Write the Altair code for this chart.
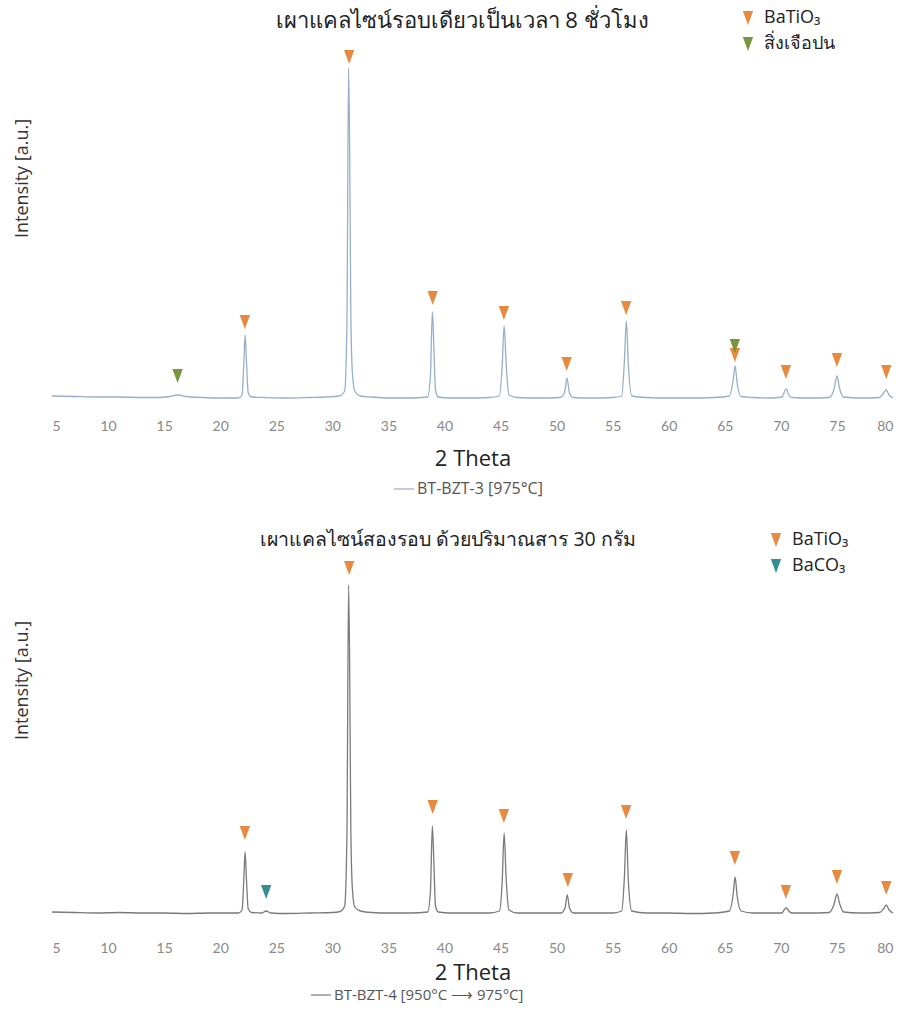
import altair as alt
import pandas as pd

# ---------------- data ----------------
x_ticks = [5, 10, 15, 20, 25, 30, 35, 40, 45, 50, 55, 60, 65, 70, 75, 80]

top_title = "เผาแคลไซน์รอบเดียวเป็นเวลา 8 ชั่วโมง"
bottom_title = "เผาแคลไซน์สองรอบ ด้วยปริมาณสาร 30 กรัม"

top_series = "BT-BZT-3 [975°C]"
bottom_series = "BT-BZT-4 [950°C ⟶ 975°C]"

top_phases = ["BaTiO₃", "สิ่งเจือปน"]
top_phase_colors = ["#e5802f", "#6f8c2f"]
bottom_phases = ["BaTiO₃", "BaCO₃"]
bottom_phase_colors = ["#e5802f", "#23868c"]

# (2theta, intensity)
top_trace = [
    (5.0, 9), (7.0, 8.5), (9.0, 8), (11.0, 8), (13.0, 7.5), (14.5, 7.5), (15.5, 8.5), (16.2, 10),
    (17.0, 8.5), (18.5, 7.5), (20.0, 7), (21.6, 7), (21.95, 10), (22.1, 40), (22.22, 70),
    (22.35, 42), (22.5, 12), (22.8, 8), (24.0, 7.5), (26.0, 7), (28.0, 7.5), (29.5, 8),
    (30.6, 9), (31.1, 14), (31.3, 80), (31.45, 337), (31.55, 250), (31.65, 90), (31.8, 30),
    (32.0, 14), (32.5, 9), (33.5, 8), (35.0, 7), (37.0, 7), (38.5, 8), (38.75, 30),
    (38.92, 93), (39.05, 60), (39.2, 15), (39.45, 8), (40.5, 7), (42.0, 7), (44.0, 7.5),
    (44.9, 9), (45.15, 40), (45.32, 79), (45.5, 42), (45.75, 10), (46.5, 7.5), (48.5, 7),
    (50.3, 7.5), (50.7, 12), (50.92, 27), (51.15, 12), (51.5, 7.5), (53.0, 7), (55.0, 7.5),
    (55.8, 9), (56.05, 45), (56.22, 84), (56.4, 40), (56.7, 9), (58.0, 7.5), (60.0, 7),
    (62.0, 7), (64.0, 7.5), (65.4, 9), (65.75, 25), (65.92, 39), (66.1, 22), (66.45, 8.5),
    (67.5, 7.5), (69.0, 7), (70.1, 8), (70.35, 14), (70.5, 16), (70.7, 10), (71.0, 7.5),
    (72.5, 7), (74.3, 7.5), (74.75, 16), (75.0, 29), (75.25, 16), (75.6, 8), (77.0, 7),
    (78.8, 7.5), (79.15, 12), (79.4, 15), (79.65, 10), (80.0, 7),
]

bottom_trace = [
    (5.0, 14), (7.0, 13.5), (9.0, 13), (11.0, 13.5), (13.0, 13), (15.0, 13), (17.0, 12.5),
    (19.0, 13), (21.6, 13), (21.95, 16), (22.1, 45), (22.22, 74), (22.35, 45), (22.5, 17),
    (22.8, 13.5), (23.7, 13), (24.1, 15), (24.5, 13), (26.0, 12.5), (28.0, 13), (30.0, 13.5),
    (30.7, 14.5), (31.1, 20), (31.3, 90), (31.45, 341), (31.55, 255), (31.65, 95), (31.8, 35),
    (32.0, 19), (32.5, 15), (33.5, 13.5), (35.0, 13), (37.0, 13), (38.5, 14), (38.75, 35),
    (38.92, 100), (39.05, 65), (39.2, 20), (39.45, 14), (40.5, 13), (42.0, 13), (44.0, 13),
    (44.9, 15), (45.15, 45), (45.32, 93), (45.5, 48), (45.75, 16), (46.5, 13), (48.5, 13),
    (50.4, 13), (50.75, 18), (50.95, 31), (51.15, 18), (51.5, 13), (53.0, 13), (55.0, 13),
    (55.8, 15), (56.05, 50), (56.22, 96), (56.4, 45), (56.7, 15), (58.0, 13), (60.0, 13),
    (62.0, 12.5), (64.0, 13), (65.4, 15), (65.75, 32), (65.92, 49), (66.1, 30), (66.45, 15),
    (67.5, 13), (69.0, 13), (70.1, 13), (70.35, 17), (70.5, 18), (70.7, 15), (71.0, 13),
    (72.5, 13), (74.3, 13.5), (74.75, 22), (75.0, 32), (75.25, 22), (75.6, 14), (77.0, 13),
    (78.8, 13.5), (79.15, 17), (79.4, 21), (79.65, 16), (80.0, 13),
]

# (2theta, marker height, phase)
top_markers = [
    (22.2, 83, "BaTiO₃"), (31.5, 348, "BaTiO₃"), (38.95, 107, "BaTiO₃"), (45.3, 92, "BaTiO₃"),
    (50.9, 41, "BaTiO₃"), (56.2, 97, "BaTiO₃"), (65.9, 50, "BaTiO₃"), (70.45, 33, "BaTiO₃"),
    (75.0, 45, "BaTiO₃"), (79.4, 33, "BaTiO₃"),
    (16.2, 29, "สิ่งเจือปน"), (65.9, 59, "สิ่งเจือปน"),
]

bottom_markers = [
    (22.2, 93, "BaTiO₃"), (31.5, 358, "BaTiO₃"), (38.95, 119, "BaTiO₃"), (45.3, 110, "BaTiO₃"),
    (51.0, 46, "BaTiO₃"), (56.2, 114, "BaTiO₃"), (65.9, 68, "BaTiO₃"), (70.45, 34, "BaTiO₃"),
    (75.0, 49, "BaTiO₃"), (79.4, 38, "BaTiO₃"),
    (24.1, 34, "BaCO₃"),
]

FONT = "Open Sans"
TRI = "M-0.75,-1L0.75,-1L0,1Z"
PLOT_W = 841
PLOT_H = 397
Y_MAX = 397


def panel(trace, markers, series, line_color, phases, phase_colors, title, title_size,
          title_x, title_y, leg_x, leg_y, line_leg_x, line_leg_y, line_leg_size,
          label_pad, title_pad, ytitle_y):
    df_line = pd.DataFrame(trace, columns=["theta", "intensity"])
    df_line["series"] = series
    df_m = pd.DataFrame(markers, columns=["theta", "intensity", "phase"])
    df_t = pd.DataFrame({"t": [title]})

    x = alt.X("theta:Q",
              scale=alt.Scale(domain=[5, 80], nice=False, zero=False),
              axis=alt.Axis(values=x_ticks, title="2 Theta", grid=False, domain=False,
                            ticks=False, labelFontSize=14, labelColor="#888",
                            labelFont="Lato", labelPadding=label_pad,
                            titleFontSize=22, titleFontWeight="normal",
                            titleColor="#222", titlePadding=title_pad, titleFont=FONT))
    y = alt.Y("intensity:Q",
              scale=alt.Scale(domain=[0, Y_MAX], nice=False, zero=False),
              axis=alt.Axis(title="Intensity [a.u.]", labels=False, ticks=False,
                            domain=False, grid=False, titleFontSize=18,
                            titleFontWeight="normal", titleColor="#333",
                            titlePadding=21, titleFont=FONT, titleY=ytitle_y))

    line = alt.Chart(df_line).mark_line(strokeWidth=1.3, interpolate="monotone").encode(
        x=x, y=y,
        color=alt.Color("series:N",
                        scale=alt.Scale(domain=[series], range=[line_color]),
                        legend=alt.Legend(orient="none", legendX=line_leg_x,
                                          legendY=line_leg_y, title=None, padding=0,
                                          symbolType="stroke", symbolSize=400,
                                          symbolStrokeWidth=1.2,
                                          labelFontSize=line_leg_size,
                                          labelColor="#555", labelFont=FONT,
                                          labelOffset=2, labelLimit=500)),
    )
    pts = alt.Chart(df_m).mark_point(shape=TRI, filled=True, size=190,
                                     opacity=0.92, strokeWidth=0).encode(
        x=x, y=y,
        fill=alt.Fill("phase:N",
                      scale=alt.Scale(domain=phases, range=phase_colors),
                      legend=alt.Legend(orient="none", legendX=leg_x, legendY=leg_y,
                                        title=None, padding=0, symbolType=TRI,
                                        symbolSize=190, symbolStrokeWidth=0,
                                        labelFontSize=18, labelColor="#222",
                                        labelFont=FONT, rowPadding=8, labelOffset=7,
                                        labelLimit=300)),
    )
    ttl = alt.Chart(df_t).mark_text(fontSize=title_size, font=FONT, color="#222",
                                    align="center", baseline="middle").encode(
        x=alt.value(title_x), y=alt.value(title_y), text="t:N")
    return alt.layer(line, pts, ttl).properties(
        width=PLOT_W, height=PLOT_H,
    ).resolve_scale(color="independent", fill="independent")


top = panel(top_trace, top_markers, top_series, "#97afc9", top_phases,
            top_phase_colors, top_title, 22, 410, 13, 687, 1, 341, 470, 16, 14, 15, 170)
bottom = panel(bottom_trace, bottom_markers, bottom_series, "#7a7a7a", bottom_phases,
               bottom_phase_colors, bottom_title, 19.5, 396, 11, 715, 2, 258, 455, 15,
               15, 7, 151)

chart = alt.vconcat(top, bottom, spacing=32).resolve_scale(
    color="independent", fill="independent"
).resolve_legend(color="independent", fill="independent").properties(
    padding={"left": 13, "top": 8, "right": 0, "bottom": 0}
).configure_view(stroke=None)

chart.save("out.html", embed_options={"renderer": "svg", "actions": False})
